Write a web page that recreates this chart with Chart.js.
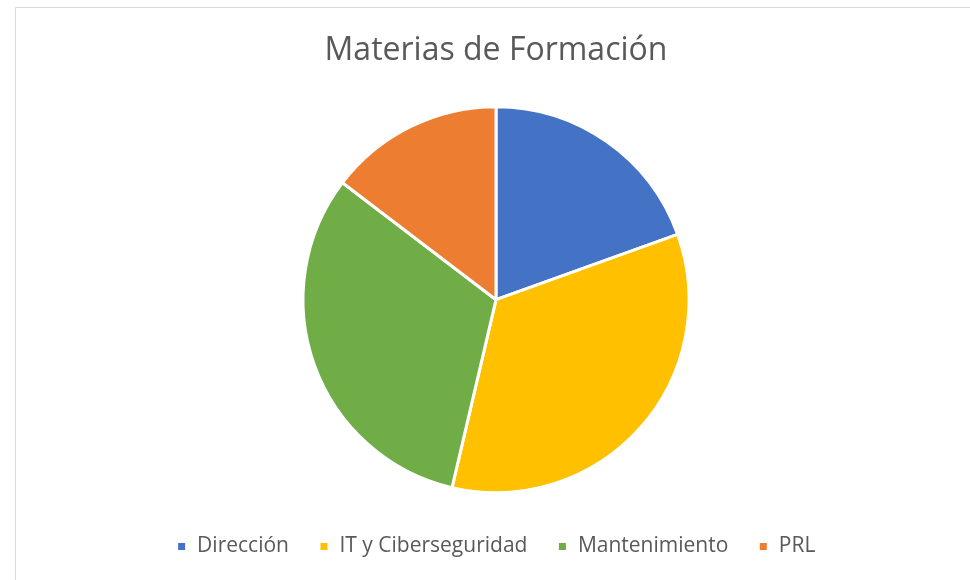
<!DOCTYPE html>
<html>
<head>
<meta charset="utf-8">
<script src="https://cdn.jsdelivr.net/npm/chart.js@4/dist/chart.umd.min.js"></script>
<style>
  html, body { margin: 0; padding: 0; background: #fff; overflow: hidden; width: 970px; height: 580px; }
  #frame { position: absolute; left: 15px; top: 7px; width: 1000px; height: 1000px; border: 1px solid #d9d9d9; box-sizing: border-box; }
  #wrap { position: absolute; left: 0; top: 0; width: 992px; height: 600px; }
</style>
</head>
<body>
<div id="frame"></div>
<div id="wrap"><canvas id="pieChart"></canvas></div>
<script>
// ===== DATA =====
const chartTitle = "Materias de Formación";
const categories = ["Dirección", "IT y Ciberseguridad", "Mantenimiento", "PRL"];
const values = [8, 14, 13, 6];
const colors = ["#4472C4", "#FFC000", "#70AD47", "#ED7D31"];

const textColor = "#595959";
const fontFamily = "'Open Sans', sans-serif";

new Chart(document.getElementById("pieChart"), {
  type: "pie",
  data: {
    labels: categories,
    datasets: [{
      data: values,
      backgroundColor: colors,
      borderColor: "#ffffff",
      borderWidth: 3,
      hoverOffset: 0
    }]
  },
  options: {
    responsive: true,
    maintainAspectRatio: false,
    animation: false,
    radius: 193,
    layout: { padding: { top: 0, bottom: 33, left: 0, right: 0 } },
    plugins: {
      title: {
        display: true,
        text: chartTitle,
        color: textColor,
        font: { family: fontFamily, size: 32, weight: "normal", lineHeight: 1.2 },
        padding: { top: 32, bottom: 23 }
      },
      legend: {
        position: "bottom",
        labels: {
          color: textColor,
          font: { family: fontFamily, size: 21 },
          boxWidth: 10,
          boxHeight: 10,
          padding: 30
        }
      },
      tooltip: { enabled: false }
    }
  }
});
</script>
</body>
</html>
